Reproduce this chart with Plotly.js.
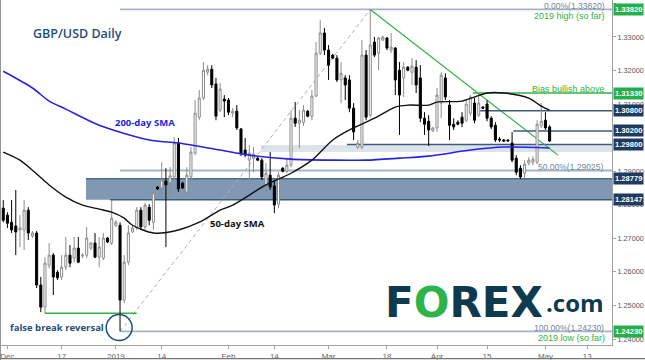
<!DOCTYPE html>
<html><head><meta charset="utf-8">
<script src="https://cdn.plot.ly/plotly-3.0.1.min.js"></script>
<style>html,body{margin:0;padding:0;background:#fff}#chart{width:645px;height:360px}</style>
</head><body><div id="chart"></div>
<script>
// Daily sessions shown on the chart (Sunday-Friday, Saturdays absent)
const dates = [];
for (let t = Date.UTC(2018, 10, 30); t <= Date.UTC(2019, 4, 2); t += 86400000) {
  const d = new Date(t);
  if (d.getUTCDay() !== 6) dates.push(d.toISOString().slice(0, 10));
}
const open = [1.2790,1.2769,1.2748,1.2737,1.2725,1.2725,1.2784,1.2707,1.2716,1.2561,1.2495,1.2620,1.2650,1.2599,1.2585,1.2614,1.2650,1.2641,1.2671,1.2647,1.2650,1.2671,1.2686,1.2644,1.2641,1.2701,1.2686,1.2739,1.2739,1.2516,1.2629,1.2719,1.2731,1.2784,1.2734,1.2793,1.2748,1.2853,1.2850,1.2871,1.2865,1.2883,1.2984,1.2865,1.2838,1.2883,1.2954,1.3061,1.3118,1.3195,1.3204,1.3160,1.3082,1.3115,1.3112,1.3073,1.3079,1.3026,1.2963,1.2933,1.2939,1.2939,1.2933,1.2859,1.2888,1.2856,1.2802,1.2909,1.2900,1.2918,1.3058,1.3043,1.3046,1.3079,1.3064,1.3124,1.3252,1.3312,1.3261,1.3246,1.3237,1.3172,1.3178,1.3172,1.3088,1.2972,1.2972,1.3246,1.3067,1.3285,1.3252,1.3291,1.3297,1.3261,1.3267,1.3201,1.3178,1.3210,1.3195,1.3210,1.3178,1.3058,1.3049,1.3020,1.3029,1.3103,1.3178,1.3097,1.3040,1.3046,1.3061,1.3052,1.3073,1.3103,1.3067,1.3091,1.3100,1.3058,1.3037,1.2996,1.2993,1.2993,1.2984,1.2939,1.2909,1.2894,1.2924,1.2927,1.2927,1.3035,1.3052,1.3032];
const high = [1.2814,1.2778,1.2814,1.2844,1.2769,1.2814,1.2793,1.2722,1.2722,1.2585,1.2644,1.2686,1.2656,1.2605,1.2650,1.2704,1.2680,1.2704,1.2704,1.2656,1.2734,1.2689,1.2716,1.2704,1.2716,1.2704,1.2814,1.2754,1.2748,1.2650,1.2739,1.2739,1.2793,1.2793,1.2805,1.2802,1.2844,1.2856,1.2927,1.2909,1.2912,1.3002,1.2999,1.2868,1.2912,1.2972,1.3112,1.3142,1.3225,1.3216,1.3216,1.3178,1.3163,1.3127,1.3118,1.3088,1.3097,1.3029,1.2999,1.2978,1.2972,1.2942,1.2939,1.2924,1.2957,1.2874,1.2897,1.2912,1.2939,1.3082,1.3106,1.3082,1.3097,1.3082,1.3142,1.3285,1.3351,1.3327,1.3276,1.3249,1.3246,1.3225,1.3186,1.3186,1.3103,1.2993,1.3291,1.3261,1.3382,1.3300,1.3300,1.3303,1.3300,1.3312,1.3270,1.3225,1.3225,1.3213,1.3237,1.3231,1.3216,1.3076,1.3067,1.3032,1.3148,1.3195,1.3192,1.3112,1.3058,1.3052,1.3076,1.3112,1.3127,1.3118,1.3133,1.3094,1.3112,1.3064,1.3046,1.3002,1.2996,1.2996,1.3017,1.2948,1.2918,1.2933,1.2942,1.2945,1.3052,1.3103,1.3076,1.3037];
const low = [1.2748,1.2731,1.2716,1.2650,1.2674,1.2665,1.2695,1.2701,1.2552,1.2480,1.2477,1.2611,1.2531,1.2576,1.2576,1.2605,1.2614,1.2629,1.2626,1.2641,1.2641,1.2665,1.2641,1.2614,1.2635,1.2686,1.2680,1.2734,1.2423,1.2507,1.2620,1.2716,1.2725,1.2725,1.2725,1.2739,1.2725,1.2844,1.2823,1.2674,1.2823,1.2874,1.2838,1.2847,1.2829,1.2874,1.2948,1.3052,1.3112,1.3186,1.3148,1.3052,1.3076,1.3061,1.3067,1.3061,1.3023,1.2945,1.2942,1.2859,1.2897,1.2930,1.2874,1.2850,1.2844,1.2775,1.2790,1.2897,1.2894,1.2912,1.3032,1.2969,1.3035,1.3061,1.3052,1.3121,1.3246,1.3246,1.3172,1.3234,1.3166,1.3103,1.3112,1.3076,1.2993,1.2966,1.2966,1.3052,1.3061,1.3240,1.3201,1.3288,1.3261,1.3252,1.3127,1.3008,1.3121,1.3198,1.3157,1.3133,1.3046,1.3008,1.2975,1.3017,1.3017,1.3058,1.3112,1.2993,1.3023,1.3037,1.3032,1.3046,1.3064,1.3043,1.3061,1.3085,1.3049,1.3026,1.2987,1.2987,1.2987,1.2990,1.2927,1.2888,1.2877,1.2880,1.2918,1.2918,1.2921,1.3029,1.3023,1.2987];
const close = [1.2754,1.2745,1.2725,1.2719,1.2731,1.2784,1.2716,1.2716,1.2561,1.2495,1.2626,1.2650,1.2585,1.2582,1.2614,1.2650,1.2626,1.2671,1.2629,1.2650,1.2701,1.2686,1.2644,1.2674,1.2701,1.2689,1.2760,1.2748,1.2516,1.2629,1.2716,1.2731,1.2784,1.2734,1.2799,1.2754,1.2835,1.2847,1.2874,1.2859,1.2886,1.2984,1.2847,1.2850,1.2888,1.2957,1.3073,1.3118,1.3201,1.3204,1.3157,1.3064,1.3145,1.3109,1.3076,1.3079,1.3029,1.2954,1.2948,1.2954,1.2951,1.2933,1.2883,1.2894,1.2853,1.2799,1.2888,1.2900,1.2918,1.3058,1.3043,1.3052,1.3082,1.3064,1.3124,1.3252,1.3312,1.3261,1.3216,1.3237,1.3172,1.3192,1.3157,1.3088,1.3017,1.2984,1.3246,1.3061,1.3276,1.3246,1.3297,1.3300,1.3267,1.3270,1.3172,1.3127,1.3210,1.3201,1.3213,1.3157,1.3058,1.3040,1.3023,1.3029,1.3127,1.3186,1.3121,1.3037,1.3032,1.3040,1.3043,1.3100,1.3121,1.3052,1.3103,1.3088,1.3058,1.3032,1.2993,1.2993,1.2990,1.2990,1.2933,1.2897,1.2883,1.2921,1.2933,1.2936,1.3040,1.3049,1.3029,1.2990];

const sma200Dates = ['2018-11-30','2018-12-09','2018-12-13','2018-12-18','2018-12-27','2019-01-10','2019-01-18','2019-01-30','2019-02-07','2019-02-19','2019-03-03','2019-03-12','2019-03-21','2019-03-29','2019-04-10','2019-04-19','2019-05-02'];
const sma200 = [1.3198,1.3148,1.3109,1.3085,1.3037,1.2993,1.2984,1.2963,1.2948,1.2936,1.2933,1.2933,1.2939,1.2945,1.2963,1.2972,1.2969];
const sma50Dates = ['2018-11-30','2018-12-05','2018-12-09','2018-12-13','2018-12-18','2018-12-23','2018-12-27','2018-12-31','2019-01-03','2019-01-06','2019-01-11','2019-01-18','2019-01-24','2019-01-30','2019-02-03','2019-02-12','2019-02-19','2019-02-25','2019-03-03','2019-03-07','2019-03-14','2019-03-20','2019-03-24','2019-03-29','2019-04-01','2019-04-08','2019-04-15','2019-04-19','2019-04-26','2019-04-30','2019-05-02'];
const sma50 = [1.2957,1.2933,1.2903,1.2859,1.2823,1.2799,1.2787,1.2778,1.2760,1.2739,1.2716,1.2725,1.2748,1.2784,1.2799,1.2859,1.2894,1.2933,1.2993,1.3023,1.3058,1.3091,1.3097,1.3097,1.3106,1.3109,1.3133,1.3133,1.3118,1.3094,1.3082];

const tickDates = ['2018-12-02','2018-12-17','2019-01-01','2019-01-14','2019-02-01','2019-02-14','2019-03-01','2019-03-18','2019-04-01','2019-04-15','2019-05-01','2019-05-13'];
const tickText = ['Dec','17','2019','14','Feb','14','Mar','18','Apr','15','May','13'];
const priceTicks = [1.24,1.25,1.26,1.27,1.28,1.29,1.31,1.32,1.33,1.34];
const priceTickText = ['1.24000','1.25000','1.26000','1.27000','1.28000','1.29000','1.31000','1.32000','1.33000','1.34000'];

const levelValues = [1.3382,1.3133,1.3080,1.3020,1.2980,1.28779,1.28147,1.2423];
const levelText = ['1.33820','1.31330','1.30800','1.30200','1.29800','1.28779','1.28147','1.24230'];
const levelKind = ['g','g','n','n','n','n','n','g'];

const fibLow = 1.2423, fibHigh = 1.3382, fibMid = 1.29025;
const decLow = 1.2477;
const zoneLow = 1.28147, zoneHigh = 1.28779;
const bandLow = 1.2957, bandHigh = 1.2978;

const at = d => d + ' 12:00';
const GREEN = '#2fb344', NAVY = '#3d5c7c', FIB = '#a3b4c6';

const traces = [
  {type:'candlestick', x: dates.map(at), open, high, low, close,
   increasing:{line:{color:'#8c8c8c', width:1}, fillcolor:'#ffffff'},
   decreasing:{line:{color:'#000000', width:1}, fillcolor:'#000000'},
   whiskerwidth:0, hoverinfo:'skip', showlegend:false},
  {type:'scatter', mode:'lines', x: sma200Dates.map(at), y: sma200,
   line:{color:'#2323e8', width:1.6, shape:'spline', smoothing:0.8}, hoverinfo:'skip', showlegend:false},
  {type:'scatter', mode:'lines', x: sma50Dates.map(at), y: sma50,
   line:{color:'#111111', width:1.4, shape:'spline', smoothing:0.8}, hoverinfo:'skip', showlegend:false}
];

const END = '2019-05-30';
const shapes = [
  {type:'rect', layer:'below', xref:'x', yref:'y', x0:'2018-12-24 08:00', x1:END, y0:zoneLow, y1:zoneHigh, fillcolor:'#8098b2', line:{width:0}},
  {type:'line', layer:'below', xref:'x', yref:'y', x0:'2018-12-24 08:00', x1:END, y0:zoneHigh, y1:zoneHigh, line:{color:'#4d6b8a', width:1.5}},
  {type:'line', layer:'below', xref:'x', yref:'y', x0:'2018-12-31 02:00', x1:END, y0:zoneLow, y1:zoneLow, line:{color:'#3d5c7c', width:1.5}},
  {type:'rect', layer:'below', xref:'x', yref:'y', x0:'2019-02-11 07:00', x1:END, y0:bandLow, y1:bandHigh, fillcolor:'#dce3eb', line:{width:0}},
  {type:'line', layer:'below', xref:'x', yref:'y', x0:'2019-03-06 22:00', x1:END, y0:1.2980, y1:1.2980, line:{color:NAVY, width:1.5}},
  {type:'line', layer:'below', xref:'x', yref:'y', x0:'2019-01-02 12:00', x1:END, y0:fibHigh, y1:fibHigh, line:{color:FIB, width:1.8}},
  {type:'line', layer:'below', xref:'x', yref:'y', x0:'2019-01-02 12:00', x1:END, y0:fibMid, y1:fibMid, line:{color:FIB, width:2}},
  {type:'line', layer:'below', xref:'x', yref:'y', x0:'2019-01-02 12:00', x1:END, y0:fibLow, y1:fibLow, line:{color:FIB, width:1.8}},
  {type:'line', layer:'below', xref:'x', yref:'y', x0:'2019-01-02 12:00', x1:'2019-03-13 12:00', y0:fibLow, y1:fibHigh, line:{color:'#b0b0b0', width:1, dash:'4px,3px'}},
  {type:'line', layer:'below', xref:'x', yref:'y', x0:'2019-03-13 12:00', x1:'2019-05-05 12:00', y0:fibHigh, y1:1.2948, line:{color:GREEN, width:1.2}},
  {type:'line', layer:'below', xref:'x', yref:'y', x0:'2019-04-11 02:00', x1:END, y0:1.3133, y1:1.3133, line:{color:GREEN, width:1.5}},
  {type:'line', layer:'below', xref:'x', yref:'y', x0:'2019-04-12 20:00', x1:END, y0:1.3080, y1:1.3080, line:{color:NAVY, width:1.5}},
  {type:'line', layer:'below', xref:'x', yref:'y', x0:'2019-04-22 19:00', x1:END, y0:1.3020, y1:1.3020, line:{color:NAVY, width:1.5}},
  {type:'line', layer:'below', xref:'x', yref:'y', x0:'2018-12-12 12:00', x1:'2019-01-07 12:00', y0:decLow, y1:decLow, line:{color:GREEN, width:1.5}},
  {type:'circle', layer:'above', xref:'x', yref:'y', xsizemode:'pixel', ysizemode:'pixel',
   xanchor:'2019-01-02 07:00', yanchor:1.2434, x0:-13, x1:13, y0:-13, y1:13, line:{color:'#1f4e79', width:1.5}},
  {type:'line', xref:'paper', yref:'paper', x0:-0.0016, x1:-0.0016, y0:-0.05, y1:1.0, line:{color:'#555', width:1.2}},
  {type:'line', xref:'paper', yref:'paper', x0:-0.002, x1:1.06, y0:-0.0395, y1:-0.0395, line:{color:'#777', width:1.2}}
];

const px = v => (v - 1) / 611, py = v => 1 - v / 345;
const annotations = [
  {xref:'paper', yref:'paper', x:px(31), y:py(33), xanchor:'left', yanchor:'middle', showarrow:false,
   text:'GBP/USD Daily', font:{family:'Open Sans', size:12.5, color:'#1f4e79', weight:600}},
  {xref:'paper', yref:'paper', x:px(145), y:py(122), xanchor:'center', yanchor:'middle', showarrow:false,
   text:'<b>200-day SMA</b>', font:{family:'Open Sans', size:9.5, color:'#2323e8'}},
  {xref:'paper', yref:'paper', x:px(237.5), y:py(223), xanchor:'center', yanchor:'middle', showarrow:false,
   text:'<b>50-day SMA</b>', font:{family:'Open Sans', size:9.5, color:'#111'}},
  {xref:'paper', yref:'paper', x:px(56.5), y:py(327), xanchor:'center', yanchor:'middle', showarrow:false,
   text:'<b>false break reversal</b>', font:{family:'Open Sans', size:9.5, color:'#1f4e79'}},
  {xref:'paper', yref:'paper', x:px(607), y:py(6), xanchor:'right', yanchor:'middle', showarrow:false,
   text:'0.00%(1.33820)', font:{family:'Liberation Sans', size:8.5, color:'#7088a0'}},
  {xref:'paper', yref:'paper', x:px(607), y:py(15.5), xanchor:'right', yanchor:'middle', showarrow:false,
   text:'2019 high (so far)', font:{family:'Liberation Sans', size:9, color:GREEN}},
  {xref:'paper', yref:'paper', x:px(607), y:py(89), xanchor:'right', yanchor:'middle', showarrow:false,
   text:'Bias bullish above', font:{family:'Liberation Sans', size:9, color:GREEN}},
  {xref:'paper', yref:'paper', x:px(605), y:py(167), xanchor:'right', yanchor:'middle', showarrow:false,
   text:'50.00%(1.29025)', font:{family:'Liberation Sans', size:8.5, color:'#7088a0'}},
  {xref:'paper', yref:'paper', x:px(606), y:py(328), xanchor:'right', yanchor:'middle', showarrow:false,
   text:'100.00%(1.24230)', font:{family:'Liberation Sans', size:8.5, color:'#7088a0'}},
  {xref:'paper', yref:'paper', x:px(607), y:py(337.5), xanchor:'right', yanchor:'middle', showarrow:false,
   text:'2019 low (so far)', font:{family:'Liberation Sans', size:9, color:GREEN}},
  {xref:'paper', yref:'paper', x:px(383), y:py(302), xanchor:'left', yanchor:'middle', showarrow:false,
   text:'F<span style="color:#2db34a">O</span>REX', font:{family:'DejaVu Sans', size:42, color:'#0e3a4f', weight:'bold'}},
  {xref:'paper', yref:'paper', x:px(544), y:py(302), xanchor:'left', yanchor:'middle', showarrow:false,
   text:'.com', font:{family:'Open Sans', size:24, color:'#0e3a4f', weight:'bold'}}
];
levelValues.forEach((v, i) => annotations.push({
  xref:'paper', yref:'y', x:1, y:v, xanchor:'left', yanchor:'middle', xshift:1, showarrow:false,
  text:'<b>' + levelText[i] + '</b>', bgcolor: levelKind[i] === 'g' ? '#22b04a' : '#1d3b5e',
  borderpad:1, font:{family:'Liberation Sans', size:7.6, color:'#ffffff'}
}));

const layout = {
  width:645, height:360, margin:{l:1, r:33, t:0, b:15},
  paper_bgcolor:'#ffffff', plot_bgcolor:'#ffffff', showlegend:false,
  xaxis:{type:'date', range:['2018-11-29 23:00','2019-05-20 11:00'],
    rangebreaks:[{pattern:'day of week', bounds:[6, 0]}],
    rangeslider:{visible:false}, showgrid:false, zeroline:false,
    showline:true, linecolor:'#a0a0a0', linewidth:1,
    ticks:'outside', ticklen:3, tickcolor:'#a0a0a0',
    tickvals: tickDates.map(at), ticktext: tickText,
    tickfont:{family:'Liberation Sans', size:8, color:'#666'}},
  yaxis:{side:'right', range:[1.23822, 1.34102], showgrid:false, zeroline:false,
    showline:true, linecolor:'#a0a0a0', linewidth:1,
    ticks:'outside', ticklen:3, tickcolor:'#a0a0a0',
    tickvals: priceTicks, ticktext: priceTickText,
    tickfont:{family:'Liberation Sans', size:7.3, color:'#555'}},
  shapes, annotations
};
Plotly.newPlot('chart', traces, layout, {staticPlot:true, displayModeBar:false});
</script></body></html>
